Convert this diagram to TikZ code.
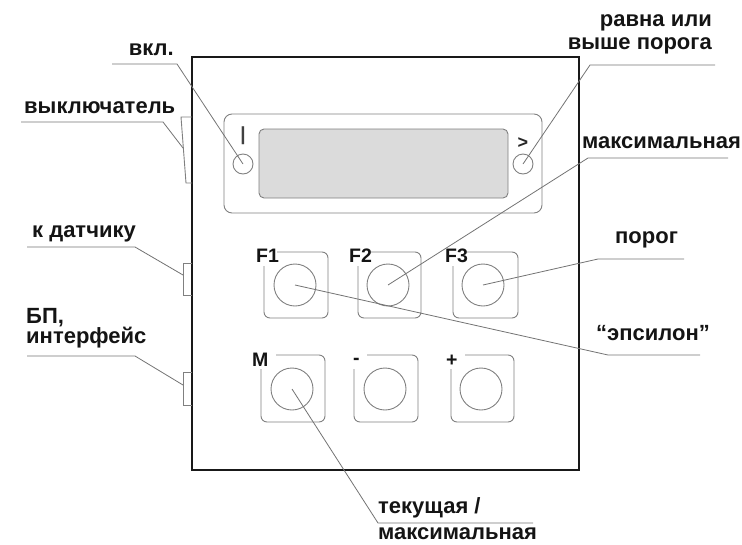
\documentclass[tikz,border=0pt]{standalone}
\usepackage{fontspec}
\setmainfont{Liberation Sans}
\begin{document}
\begin{tikzpicture}[x=1pt,y=-1pt,
  lbl/.style={font=\fontsize{22}{24}\selectfont\bfseries, text=black!92, inner sep=0pt},
  keylbl/.style={font=\fontsize{19.5}{21}\selectfont\bfseries, text=black!92, inner sep=0pt},
  leader/.style={draw=black!55, line width=0.8pt},
  thin/.style={draw=black!50, line width=0.9pt},
  keybox/.style={thin, rounded corners=6pt},
  keycirc/.style={thin, circle, minimum size=42pt, inner sep=0pt},
  led/.style={thin, circle, minimum size=20pt, inner sep=0pt}]
\useasboundingbox (0,0) rectangle (742,544);
% main housing
\draw[line width=2pt, black!90] (192,57) rectangle (579,470);
% side parts
\draw[thin] (192,117) -- (181,117) -- (186,183) -- (192,183);
\draw[thin] (192,263) -- (183,263) -- (183,295) -- (192,295);
\draw[thin] (192,372) -- (183,372) -- (183,405) -- (192,405);
\coordinate (sw) at (183,148);
\coordinate (c1) at (183,275);
\coordinate (c2) at (183,385);
% display
\draw[thin, rounded corners=8pt] (224,114) rectangle (542,213);
\draw[thin, fill=black!14, rounded corners=5pt] (259,129) rectangle (508,198);
\node[led] (ledL) at (243,164) {};
\node[led] (ledR) at (523,164) {};
\node[font=\fontsize{19}{20}\selectfont\bfseries, text=black!75, inner sep=0pt] (barL) at (243,136) {|};
\node[font=\fontsize{18}{20}\selectfont\bfseries, text=black!85, inner sep=0pt] (gtR) at (523,143) {>};
% keys row 1
\draw[keybox] (264,266) -- (264,318) -- (328,318) -- (328,252) -- (277,252);
\draw[keybox] (358,266) -- (358,318) -- (421,318) -- (421,252) -- (371,252);
\draw[keybox] (453,266) -- (453,318) -- (518,318) -- (518,252) -- (466,252);
\node[keycirc] (kF1) at (295,285) {};
\node[keycirc] (kF2) at (388,285) {};
\node[keycirc] (kF3) at (483,285) {};
\node[keylbl, anchor=base west] (tF1) at (256,262) {F1};
\node[keylbl, anchor=base west] (tF2) at (349,262) {F2};
\node[keylbl, anchor=base west] (tF3) at (445,262) {F3};
% keys row 2
\draw[keybox] (261,369) -- (261,422) -- (325,422) -- (325,355) -- (276,355);
\draw[keybox] (354,369) -- (354,422) -- (418,422) -- (418,355) -- (367,355);
\draw[keybox] (451,369) -- (451,422) -- (514,422) -- (514,355) -- (465,355);
\node[keycirc] (kM) at (292,389) {};
\node[keycirc] (kMinus) at (385,389) {};
\node[keycirc] (kPlus) at (481,389) {};
\node[keylbl, anchor=base west] (tM) at (252,366) {M};
\node[keylbl, anchor=base west] (tMinus) at (353,364) {-};
\node[keylbl, anchor=base west] (tPlus) at (446,366) {+};
% labels
\node[lbl, anchor=base east] (Lon) at (174,55) {вкл.};
\node[lbl, anchor=base west] (Lsw) at (24,113) {выключатель};
\node[lbl, anchor=base west] (Lsens) at (32,237) {к датчику};
\node[lbl, anchor=base west] (Lps1) at (26,323) {БП,};
\node[lbl, anchor=base west] (Lps2) at (26,343) {интерфейс};
\node[lbl, anchor=base east] (Lge1) at (712,26) {равна или};
\node[lbl, anchor=base east] (Lge2) at (712,49) {выше порога};
\node[lbl, anchor=base west] (Lmax) at (582,148) {максимальная};
\node[lbl, anchor=base west] (Lthr) at (615,243) {порог};
\node[lbl, anchor=base west] (Leps) at (596,340) {“эпсилон”};
\node[lbl, anchor=base west] (Lcur1) at (378,513) {текущая /};
\node[lbl, anchor=base west] (Lcur2) at (378,539) {максимальная};
% leader coordinates
\coordinate (a1) at (112,64);  \coordinate (a2) at (177,64);
\coordinate (b1) at (21,122);  \coordinate (b2) at (163,122);
\coordinate (d1) at (27,247);  \coordinate (d2) at (135,247);
\coordinate (e1) at (27,356);  \coordinate (e2) at (135,356);
\coordinate (f1) at (715,65);  \coordinate (f2) at (590,65);
\coordinate (g1) at (728,158); \coordinate (g2) at (588,158);
\coordinate (h1) at (684,259); \coordinate (h2) at (598,259);
\coordinate (i1) at (700,355); \coordinate (i2) at (608,355);
\coordinate (j1) at (533,523); \coordinate (j2) at (378,523);
% leaders
\draw[leader] (a1) -- (a2) -- (ledL.center);
\draw[leader] (b1) -- (b2) -- (sw);
\draw[leader] (d1) -- (d2) -- (c1);
\draw[leader] (e1) -- (e2) -- (c2);
\draw[leader] (f1) -- (f2) -- (ledR.center);
\draw[leader] (g1) -- (g2) -- (kF2.center);
\draw[leader] (h1) -- (h2) -- (kF3.center);
\draw[leader] (i1) -- (i2) -- (kF1.center);
\draw[leader] (j1) -- (j2) -- (kM.center);
\end{tikzpicture}
\end{document}
